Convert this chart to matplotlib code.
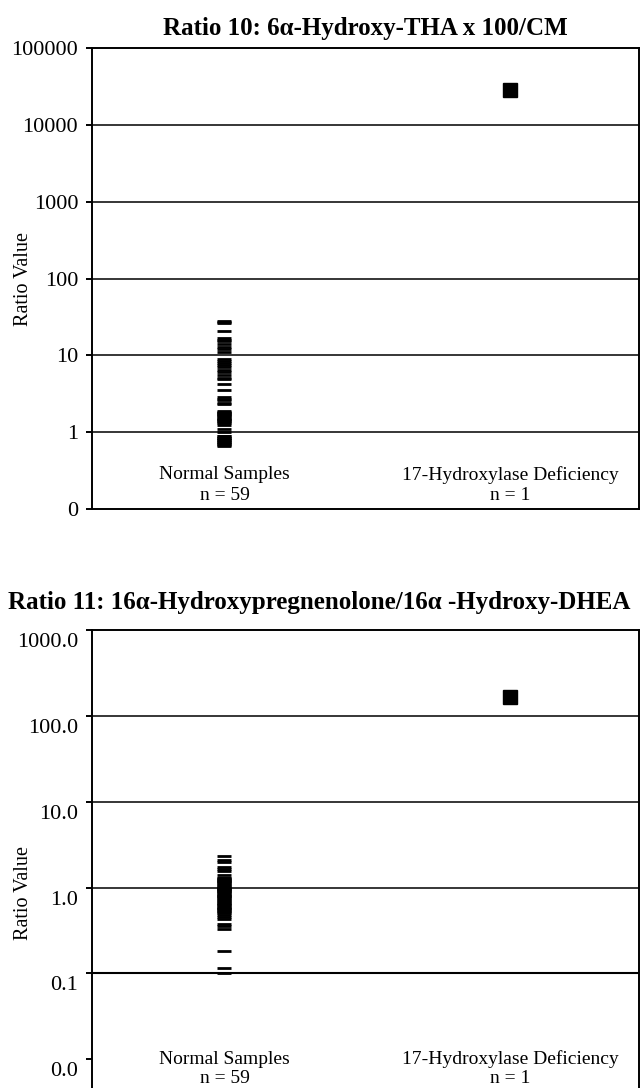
import matplotlib
matplotlib.use("Agg")
import matplotlib.pyplot as plt
import matplotlib.transforms as mtransforms
from matplotlib.ticker import FixedLocator, FuncFormatter

plt.rcParams['font.family'] = ['Liberation Serif', 'DejaVu Serif']

categories = ["Normal Samples\nn = 59", "17-Hydroxylase Deficiency\nn = 1"]

# Ratio 10: 6a-Hydroxy-THA x 100/CM
r10_normal = [28, 26, 27, 21, 17, 16, 15.5, 14, 13, 12, 11,
              9, 8.5, 8, 7.5, 7, 6.5, 6, 5.5, 5.1, 4.9, 4.2, 3.5, 2.9,
              2.7, 2.6, 2.4, 2.3,
              1.9, 1.85, 1.8, 1.75, 1.7, 1.65, 1.62, 1.6, 1.55, 1.5, 1.48,
              1.45, 1.4, 1.35, 1.3, 1.25, 1.1, 1.0,
              0.9, 0.88, 0.85, 0.83, 0.82, 0.8, 0.78, 0.75, 0.74, 0.72,
              0.7, 0.68, 0.66]
r10_deficiency = [28000]

# Ratio 11: 16a-Hydroxypregnenolone/16a-Hydroxy-DHEA
r11_normal = [2.3, 2.1, 2.0, 1.75, 1.65, 1.55, 1.4,
              1.3, 1.28, 1.25, 1.22, 1.2, 1.18, 1.15, 1.12, 1.1, 1.08, 1.05,
              1.02, 1.0, 0.99, 0.97, 0.95, 0.94, 0.92, 0.9, 0.88, 0.87, 0.84,
              0.82, 0.8, 0.79, 0.77, 0.75, 0.74, 0.71, 0.7, 0.68, 0.66, 0.65,
              0.63, 0.62, 0.6, 0.58, 0.57, 0.56, 0.54, 0.53, 0.52, 0.5, 0.48,
              0.45, 0.43, 0.38, 0.36, 0.33, 0.18, 0.115, 0.102]
r11_deficiency = [165]

W, H = 642, 1088
fig = plt.figure(figsize=(W / 100, H / 100), dpi=100)


def box(left, top, right, bottom):
    return [left / W, 1 - bottom / H, (right - left) / W, (bottom - top) / H]


def draw_panel(ax, normal, deficiency, ylim, ticks, grid, fmt, sq):
    ax.set_yscale('log')
    ax.set_xlim(0.536, 2.452)
    ax.set_ylim(*ylim)
    for g in grid:
        lw = 1.5 if g == 0.1 and ylim[1] == 1000 else 1.1
        ax.axhline(g, color='black', lw=lw, zorder=1)
    ax.plot([1] * len(normal), normal, ls='none', marker='_', ms=9.4,
            mew=2.0, color='black', zorder=3)
    ax.plot([2] * len(deficiency), deficiency, ls='none', marker='s', ms=sq,
            color='black', zorder=3)
    ax.yaxis.set_major_locator(FixedLocator(ticks))
    ax.yaxis.set_minor_locator(FixedLocator([]))
    ax.yaxis.set_major_formatter(FuncFormatter(lambda v, p: fmt.format(v)))
    ax.tick_params(axis='y', direction='out', length=4, width=1.4,
                   labelsize=16, pad=6)
    ax.tick_params(axis='x', length=0, labelbottom=False)
    for s in ax.spines.values():
        s.set_linewidth(1.4)
    ax.set_ylabel("Ratio Value", fontsize=14.5)


ax1 = fig.add_axes(box(92, 48, 639, 509))
draw_panel(ax1, r10_normal, r10_deficiency, (0.1, 100000),
           [0.1, 1, 10, 100, 1000, 10000, 100000], [1, 10, 100, 1000, 10000],
           "{:.0f}", 10.5)
ax1.yaxis.set_label_coords(-0.107, 0.5)
ax1.set_title("Ratio 10: 6\u03b1-Hydroxy-THA x 100/CM", fontsize=18,
              fontweight='bold', pad=9)
for x, lab in zip([1, 2], categories):
    ax1.text(x, 0.052, lab, transform=ax1.get_xaxis_transform(),
             ha='center', va='center', fontsize=14, linespacing=1.25)

ax2 = fig.add_axes(box(92, 630, 639, 1145))
draw_panel(ax2, r11_normal, r11_deficiency, (0.001, 1000),
           [0.01, 0.1, 1, 10, 100, 1000], [0.1, 1, 10, 100],
           "{:.1f}", 9.5)
ax2.yaxis.set_label_coords(-0.107, 0.49)
fig.text(8 / W, 1 - 602 / H,
         "Ratio 11: 16\u03b1-Hydroxypregnenolone/16\u03b1 -Hydroxy-DHEA",
         fontsize=18, fontweight='bold', ha='left', va='center')
offset = mtransforms.ScaledTranslation(0, -10 / 100, fig.dpi_scale_trans)
for lab in ax2.get_yticklabels():
    lab.set_transform(lab.get_transform() + offset)
for x, lab in zip([1, 2], categories):
    ax2.text(x, 0.148, lab, transform=ax2.get_xaxis_transform(),
             ha='center', va='center', fontsize=14, linespacing=1.15)

fig.savefig("out.png", dpi=100)
